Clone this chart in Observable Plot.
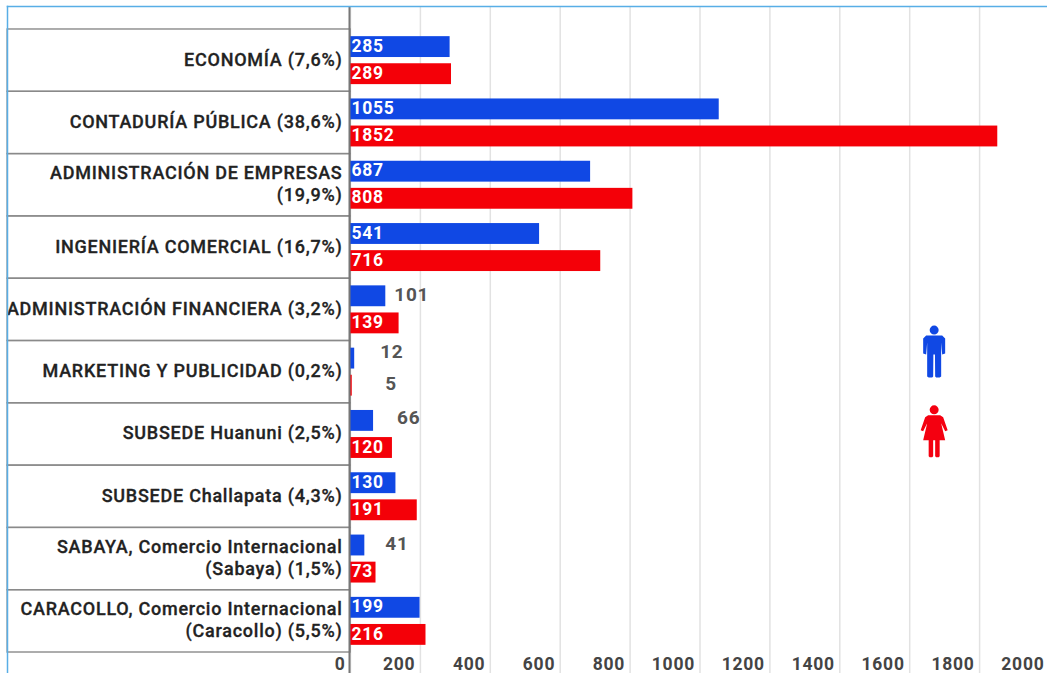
<!DOCTYPE html>
<html>
<head>
<meta charset="utf-8">
<script src="https://cdn.jsdelivr.net/npm/d3@7"></script>
<script src="https://cdn.jsdelivr.net/npm/@observablehq/plot@0.6"></script>
<style>
html,body{margin:0;padding:0;background:#fff;overflow:hidden}
svg{display:block;background:#fff}
</style>
</head>
<body>
<div id="chart"></div>
<script>
const categories = [
  "ECONOMÍA (7,6%)",
  "CONTADURÍA PÚBLICA (38,6%)",
  "ADMINISTRACIÓN DE EMPRESAS\n(19,9%)",
  "INGENIERÍA COMERCIAL (16,7%)",
  "ADMINISTRACIÓN FINANCIERA (3,2%)",
  "MARKETING Y PUBLICIDAD (0,2%)",
  "SUBSEDE Huanuni (2,5%)",
  "SUBSEDE Challapata (4,3%)",
  "SABAYA, Comercio Internacional\n(Sabaya) (1,5%)",
  "CARACOLLO, Comercio Internacional\n(Caracollo) (5,5%)"
];
const hombres = [285, 1055, 687, 541, 101, 12, 66, 130, 41, 199];
const mujeres = [289, 1852, 808, 716, 139, 5, 120, 191, 73, 216];
const xTicks = [0, 200, 400, 600, 800, 1000, 1200, 1400, 1600, 1800, 2000];

const BLUE = "#1048e4", RED = "#f40008";
// y is measured in table rows; each row holds two bars
const rowList = categories.map((c, i) => ({c, i}));
const bars = categories.flatMap((c, i) => [
  {s: "H", v: hombres[i], y1: i + 0.115, y2: i + 0.45},
  {s: "M", v: mujeres[i], y1: i + 0.55, y2: i + 0.885}
]);
// labels drawn beside the bar, with their nudges in pixels
const nudges = {"H|101": [8.5, -1], "H|12": [25.5, -7], "M|5": [33, -2], "H|66": [23.5, -3], "H|41": [20.5, -2]};
const isOutside = d => (d.s + "|" + d.v) in nudges;

const man = {draw(p) {
  p.moveTo(4.5, -21.5); p.arc(0, -21.5, 4.5, 0, 2 * Math.PI);
  p.moveTo(-8, -16); p.lineTo(8, -16);
  p.lineTo(11, -13); p.lineTo(11, 2); p.lineTo(8, 3); p.lineTo(7, -9); p.lineTo(7, 25);
  p.lineTo(5.5, 26); p.lineTo(2, 26); p.lineTo(1, 25); p.lineTo(0.8, 3); p.lineTo(-0.8, 3); p.lineTo(-1, 25);
  p.lineTo(-2, 26); p.lineTo(-5.5, 26); p.lineTo(-7, 25); p.lineTo(-7, -9); p.lineTo(-8, 3); p.lineTo(-11, 2);
  p.lineTo(-11, -13); p.closePath();
}};
const woman = {draw(p) {
  p.moveTo(4.5, -21.5); p.arc(0, -21.5, 4.5, 0, 2 * Math.PI);
  p.moveTo(-6, -16); p.lineTo(6, -16); p.lineTo(9, -14); p.lineTo(13.5, -1); p.lineTo(11, 0); p.lineTo(7, -8);
  p.lineTo(11, 9); p.lineTo(5.5, 9); p.lineTo(5.5, 25); p.lineTo(4.5, 26); p.lineTo(2, 26); p.lineTo(1, 25);
  p.lineTo(1, 9); p.lineTo(-1, 9); p.lineTo(-1, 25); p.lineTo(-2, 26); p.lineTo(-4.5, 26); p.lineTo(-5.5, 25);
  p.lineTo(-5.5, 9); p.lineTo(-11, 9); p.lineTo(-7, -8); p.lineTo(-11, 0); p.lineTo(-13.5, -1); p.lineTo(-9, -14);
  p.closePath();
}};

const chart = Plot.plot({
  width: 1047,
  height: 673,
  marginTop: 6,
  marginLeft: 7,
  marginRight: 0,
  marginBottom: 0,
  style: {fontFamily: "Roboto, sans-serif", background: "#fff", letterSpacing: "0.75px"},
  x: {domain: [0, 2000], range: [350, 1049], axis: null},
  y: {domain: [-0.369, 10.337], range: [6, 673], axis: null},
  marks: [
    Plot.gridX(xTicks, {stroke: "#e2e2e2", strokeOpacity: 1, strokeWidth: 1.5}),
    Plot.rect(rowList, {x1: -981, x2: 0, y1: "i", y2: d => d.i + 1, fill: "none", stroke: "#8a8a8a", strokeWidth: 1.4}),
    Plot.rect(bars, {x1: 0, x2: "v", y1: "y1", y2: "y2", fill: d => d.s === "H" ? BLUE : RED}),
    Plot.text(rowList, {
      x: 0, y: d => d.i + 0.5, text: "c", textAnchor: "end", dx: -8, dy: -2, lineHeight: 1.22,
      fontSize: 18, fontWeight: 500, fill: "#222", stroke: "#222", strokeWidth: 0.3
    }),
    Plot.text(bars.filter(d => !isOutside(d)), {
      x: 0, y: d => (d.y1 + d.y2) / 2, text: d => String(d.v), textAnchor: "start", dx: 1, dy: -1,
      fontSize: 17.5, fontWeight: 700, fill: "#fff"
    }),
    ...bars.filter(isOutside).map(d => Plot.text([d], {
      x: "v", y: e => (e.y1 + e.y2) / 2, text: e => String(e.v), textAnchor: "start",
      dx: nudges[d.s + "|" + d.v][0], dy: nudges[d.s + "|" + d.v][1],
      fontSize: 19, fontWeight: 700, fill: "#555"
    })),
    Plot.axisX(xTicks, {
      anchor: "bottom", tickSize: 0, tickPadding: 0, label: null, textAnchor: "end", dx: -5, dy: -16,
      tickFormat: d => String(d),
      fontSize: 17.5, fontWeight: 700, fill: "#444"
    }),
    Plot.dot([0], {x: () => 1670, y: () => 5.17, symbol: man, fill: BLUE}),
    Plot.dot([0], {x: () => 1670, y: () => 6.45, symbol: woman, fill: "#f40010"}),
    Plot.ruleX([0], {stroke: "#777", strokeWidth: 2, dx: -1}),
    Plot.frame({anchor: "top", stroke: "#58aee6", strokeWidth: 1.5}),
    Plot.frame({anchor: "left", stroke: "#58aee6", strokeWidth: 1.5})
  ]
});
document.getElementById("chart").append(chart);
</script>
</body>
</html>
